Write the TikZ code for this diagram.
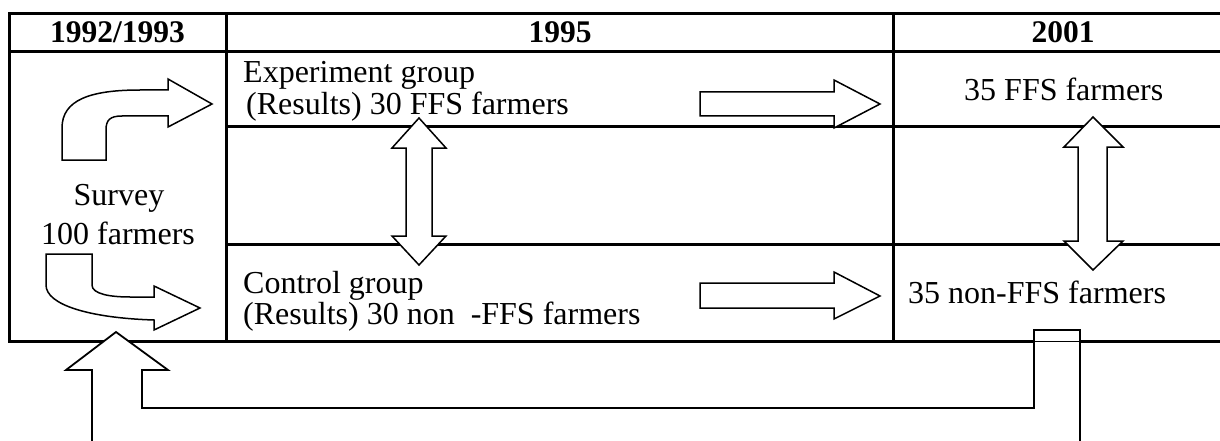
\documentclass[tikz,border=0pt]{standalone}
\usepackage{fontspec}
\setmainfont{Liberation Serif}
\begin{document}
\begin{tikzpicture}[x=1pt,y=-1pt,
  tbl/.style={line width=3pt},
  arr/.style={draw=black,fill=white,line width=1.5pt,line join=miter},
  txt/.style={font=\fontsize{32}{36}\selectfont,inner sep=0pt,anchor=base west},
  hdr/.style={font=\fontsize{31.5}{36}\selectfont\bfseries,inner sep=0pt,anchor=base}]
\clip (0,0) rectangle (1220,441);
\fill[white] (0,0) rectangle (1220,441);
% table
\draw[tbl] (9,14) rectangle (1250,341);
\draw[tbl] (9,52) -- (1250,52);
\draw[tbl] (226,14) -- (226,341);
\draw[tbl] (893,14) -- (893,341);
\draw[tbl] (226,127) -- (1250,127);
\draw[tbl] (226,244) -- (1250,244);
% curved arrows in first column
\draw[arr] (62,160) -- (62,128) .. controls (62,100) and (90,90) .. (140,90) -- (168,90) -- (168,79) -- (212,104) -- (168,127) -- (168,116) -- (122,116) .. controls (110,116) and (106,120) .. (106,130) -- (106,160) -- cycle;
\draw[arr] (46,254) -- (92,254) -- (92,285) .. controls (92,294) and (110,297) .. (130,297) -- (154,297) -- (154,286) -- (200,308) -- (154,330) -- (154,320) .. controls (90,318) and (46,305) .. (46,285) -- cycle;
% horizontal arrows
\draw[arr] (700,92) -- (834,92) -- (834,80) -- (880,104) -- (834,128) -- (834,116) -- (700,116) -- cycle;
\draw[arr] (700,283) -- (834,283) -- (834,272) -- (880,296) -- (834,319) -- (834,308) -- (700,308) -- cycle;
% vertical double arrows
\draw[arr] (419,118) -- (446,148) -- (432,148) -- (432,236) -- (446,236) -- (419,265) -- (392,236) -- (406,236) -- (406,148) -- (392,148) -- cycle;
\draw[arr] (1093,117) -- (1123,147) -- (1107,147) -- (1107,241) -- (1123,241) -- (1093,270) -- (1064,241) -- (1078,241) -- (1078,147) -- (1064,147) -- cycle;
% feedback arrow
\draw[arr,line width=1.8pt] (92,460) -- (92,370) -- (66,370) -- (116,332) -- (168,370) -- (142,370) -- (142,408) -- (1034,408) -- (1034,330) -- (1080,330) -- (1080,460);
\draw[line width=0.8pt] (1034,341) -- (1080,341);
% texts
\node[hdr] (h1) at (117.5,43) {1992/1993};
\node[hdr] (h2) at (560,43) {1995};
\node[hdr] (h3) at (1063,43) {2001};
\node[txt] (eg) at (243,83) {Experiment group};
\node[txt] (er) at (238,114) {\ (Results) 30 FFS farmers};
\node[txt,anchor=base] (sv) at (119,205) {Survey};
\node[txt,anchor=base] (hf) at (118,244) {100 farmers};
\node[txt] (cg) at (243,293) {Control group};
\node[txt] (cr) at (243,324) {(Results) 30 non \ -FFS farmers};
\node[txt] (f35) at (964,101) {35 FFS farmers};
\node[txt] (n35) at (908,303) {35 non-FFS farmers};
\end{tikzpicture}
\end{document}
